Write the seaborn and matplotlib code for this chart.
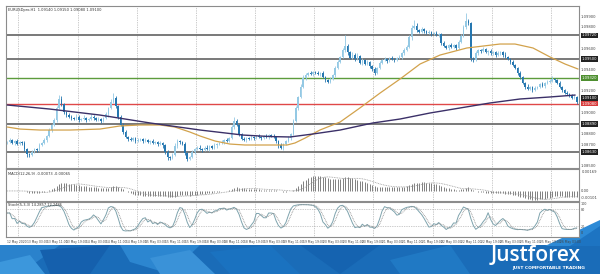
import numpy as np
import pandas as pd
import matplotlib
matplotlib.use("Agg")
import matplotlib.pyplot as plt
import seaborn as sns
from matplotlib.patches import Polygon, Rectangle
import matplotlib.transforms as mtransforms

sns.set_theme(style="white")
plt.rcParams["font.family"] = ["DejaVu Sans"]

# ---------------- data (prices in pips above 1.08000) ----------------
base_price = 1.08
close_pips = [
    72, 74, 71, 73, 70, 72, 71, 66,
    61, 60, 63, 66, 65, 69, 71, 74,
    78, 83, 88, 93, 104, 112, 108, 100,
    97, 96, 95, 94, 96, 93, 94, 95,
    93, 94, 96, 95, 93, 94, 92, 95,
    98, 104, 110, 113, 106, 96, 88, 82,
    77, 75, 74, 76, 73, 74, 75, 73,
    74, 72, 73, 71, 72, 70, 71, 69,
    63, 58, 57, 60, 68, 73, 72, 70,
    62, 56, 58, 63, 66, 67, 66, 65,
    67, 66, 68, 67, 69, 70, 71, 72,
    74, 73, 76, 86, 92, 88, 80, 75,
    74, 76, 75, 77, 76, 78, 77, 76,
    78, 77, 79, 78, 77, 73, 69, 67,
    70, 73, 76, 80, 92, 104, 114, 124,
    132, 135, 137, 136, 138, 137, 136, 137,
    133, 130, 128, 131, 135, 141, 147, 152,
    158, 162, 156, 151, 154, 150, 153, 146,
    149, 145, 147, 143, 140, 137, 141, 146,
    149, 150, 148, 151, 150, 149, 151, 152,
    155, 158, 161, 170, 179, 181, 177, 175,
    178, 176, 174, 175, 173, 174, 172, 173,
    165, 162, 160, 163, 161, 163, 160, 166,
    171, 180, 185, 183, 151, 149, 155, 158,
    157, 159, 156, 157, 155, 156, 154, 155,
    156, 154, 152, 150, 147, 144, 141, 137,
    133, 127, 124, 122, 124, 121, 123, 124,
    126, 125, 127, 128, 129, 131, 130, 127,
    124, 121, 118, 117, 116, 113, 114, 110,
]
up_wick = [
    1, 2, 1, 1, 2, 1, 1, 2,
    1, 1, 2, 1, 1, 2, 1, 2,
    1, 2, 1, 2, 2, 4, 3, 1,
    1, 2, 1, 1, 2, 1, 1, 2,
    1, 1, 2, 1, 1, 2, 1, 1,
    2, 1, 2, 5, 2, 1, 1, 2,
    1, 1, 2, 1, 1, 2, 1, 1,
    2, 1, 1, 2, 1, 1, 2, 1,
    1, 2, 1, 2, 3, 2, 1, 1,
    2, 1, 1, 2, 1, 1, 2, 1,
    1, 2, 1, 1, 2, 1, 1, 2,
    1, 2, 1, 2, 4, 2, 1, 1,
    2, 1, 1, 2, 1, 1, 2, 1,
    1, 2, 1, 1, 2, 1, 1, 2,
    1, 1, 2, 1, 2, 2, 1, 2,
    3, 2, 1, 2, 1, 1, 2, 1,
    2, 1, 1, 2, 1, 2, 2, 1,
    2, 10, 2, 1, 2, 1, 2, 1,
    2, 1, 2, 1, 1, 2, 1, 2,
    1, 2, 1, 1, 2, 1, 1, 2,
    1, 2, 2, 2, 3, 5, 2, 1,
    2, 1, 1, 2, 1, 1, 2, 1,
    1, 2, 1, 1, 2, 1, 1, 2,
    2, 2, 8, 2, 1, 1, 2, 1,
    1, 2, 1, 1, 2, 1, 1, 2,
    1, 1, 2, 1, 1, 2, 1, 1,
    2, 1, 1, 2, 1, 1, 2, 1,
    1, 2, 1, 2, 2, 3, 1, 1,
    2, 1, 1, 2, 1, 1, 2, 1,
]
dn_wick = [
    2, 1, 1, 2, 1, 1, 2, 2,
    3, 2, 1, 1, 2, 1, 1, 1,
    2, 1, 1, 1, 2, 1, 2, 2,
    1, 1, 2, 1, 1, 2, 1, 1,
    2, 1, 1, 2, 1, 1, 2, 1,
    1, 2, 1, 1, 2, 2, 1, 2,
    1, 2, 1, 1, 2, 1, 1, 2,
    1, 1, 2, 1, 1, 2, 1, 2,
    2, 3, 2, 1, 1, 1, 2, 1,
    2, 2, 1, 1, 2, 1, 1, 2,
    1, 1, 2, 1, 1, 2, 1, 1,
    2, 1, 1, 1, 2, 1, 2, 1,
    1, 2, 1, 1, 2, 1, 1, 2,
    1, 1, 2, 1, 1, 2, 2, 1,
    2, 1, 1, 2, 1, 1, 2, 1,
    1, 2, 1, 1, 2, 1, 1, 2,
    1, 2, 1, 1, 1, 2, 1, 1,
    1, 2, 2, 1, 1, 2, 1, 1,
    2, 1, 1, 2, 1, 2, 1, 1,
    1, 1, 2, 1, 1, 2, 1, 1,
    2, 1, 1, 1, 2, 1, 2, 1,
    1, 2, 1, 1, 2, 1, 1, 2,
    2, 1, 1, 2, 1, 1, 2, 1,
    1, 1, 2, 1, 3, 2, 1, 1,
    2, 1, 1, 2, 1, 1, 2, 1,
    1, 2, 1, 1, 2, 1, 1, 2,
    2, 1, 2, 1, 1, 2, 1, 1,
    1, 1, 2, 1, 1, 1, 2, 1,
    1, 2, 1, 1, 2, 1, 1, 2,
]
# moving averages read at a number of bars
fast_ma_bar = [0, 5.2, 13.3, 25.5, 37.6, 45.7, 53.8, 62, 68, 74.1, 78.2, 84.3, 90.3, 96.4,
               106.6, 113.5, 116.7, 120.8, 126.8, 135, 143, 151.2, 159.3, 167.4, 175.5,
               186.4, 199.8, 205.9, 213.2, 220.1, 226.2, 231.5]
fast_ma_pips = [86.2, 84.3, 83.4, 83.4, 84.3, 87.2, 88.1, 88.1, 86.2, 81.5, 77.8, 73.1, 70.3, 69.4,
                69.4, 69.4, 71.3, 75.9, 83.4, 90.9, 104.0, 118.0, 131.1, 145.1, 153.5,
                160.1, 163.8, 163.8, 160.1, 151.7, 145.1, 140.4]
slow_ma_bar = [0, 17.3, 37.6, 57.9, 78.2, 95.6, 106.6, 114.7, 124, 135, 148.3, 159.3, 171.4,
               183.6, 195.8, 207.9, 220.1, 230.3]
slow_ma_pips = [106.8, 103.0, 97.4, 90.0, 83.4, 78.7, 77.3, 76.9, 79.7, 83.4, 90.0, 93.7, 99.3,
                104.0, 108.7, 112.4, 114.3, 116.1]

level_gray = [1.09720, 1.09500, 1.08890, 1.08630]
level_green = 1.09320
level_red = 1.09080
price_ticks = [1.0990, 1.0980, 1.0960, 1.0940, 1.0920, 1.0900, 1.0880, 1.0870, 1.0850]

time_labels = ["12 May 2020", "13 May 03:00", "13 May 11:00", "13 May 19:00",
               "14 May 03:00", "14 May 11:00", "14 May 19:00", "15 May 03:00",
               "15 May 11:00", "15 May 19:00", "18 May 03:00", "18 May 11:00",
               "18 May 19:00", "19 May 03:00", "19 May 11:00", "19 May 19:00",
               "20 May 03:00", "20 May 11:00", "20 May 19:00", "21 May 03:00",
               "21 May 11:00", "21 May 19:00", "22 May 03:00", "22 May 11:00",
               "22 May 19:00", "25 May 03:00", "25 May 11:00", "25 May 19:00",
               "26 May 03:00"]

# ---------------- derived ----------------
n = len(close_pips)
bars = np.arange(n)
close = base_price + np.array(close_pips) / 1e4
open_ = np.concatenate([[close[0]], close[:-1]])
high = np.maximum(open_, close) + np.array(up_wick) / 1e4
low = np.minimum(open_, close) - np.array(dn_wick) / 1e4
df = pd.DataFrame({"bar": bars, "open": open_, "high": high, "low": low, "close": close})

ema12 = df["close"].ewm(span=12, adjust=False).mean()
ema26 = df["close"].ewm(span=26, adjust=False).mean()
df["macd"] = ema12 - ema26
df["signal"] = df["macd"].rolling(9, min_periods=1).mean()

ll = df["low"].rolling(5, min_periods=1).min()
hh = df["high"].rolling(5, min_periods=1).max()
num = (df["close"] - ll).rolling(3, min_periods=1).sum()
den = (hh - ll).rolling(3, min_periods=1).sum()
df["k"] = 100 * num / den.replace(0, np.nan)
df["d"] = df["k"].rolling(3, min_periods=1).mean()

W, H = 600, 274
fig = plt.figure(figsize=(6, 2.74), dpi=100)
fig.patch.set_facecolor("white")

def ax_px(x0, y0, x1, y1):
    return fig.add_axes([x0 / W, 1 - y1 / H, (x1 - x0) / W, (y1 - y0) / H])

# background / banner
bg = fig.add_axes([0, 0, 1, 1], zorder=-5)
bg.set_xlim(0, W); bg.set_ylim(H, 0); bg.axis("off")
bg.add_patch(Rectangle((0, 245), W, 30, color="#1a6cb8", lw=0))
for pts, col in [
    ([(0, 245), (60, 245), (20, 274), (0, 274)], "#2a82cc"),
    ([(40, 250), (110, 245), (90, 274), (50, 274)], "#1560ad"),
    ([(120, 245), (200, 245), (170, 274), (130, 262)], "#2c86d0"),
    ([(210, 252), (270, 245), (300, 274), (230, 274)], "#1a72c0"),
    ([(300, 245), (380, 245), (340, 274)], "#1563b0"),
    ([(390, 260), (450, 245), (470, 274), (400, 274)], "#2079c4"),
    ([(0, 262), (30, 255), (45, 274), (0, 274)], "#3c97dc"),
    ([(150, 258), (190, 250), (215, 274), (160, 274)], "#3a92d8"),
]:
    bg.add_patch(Polygon(pts, closed=True, color=col, lw=0))
bg.add_patch(Polygon([(545, 246), (600, 220), (600, 246)], closed=True, color="#2d8ad6", lw=0))
bg.add_patch(Polygon([(570, 246), (600, 226), (600, 246)], closed=True, color="#1d74c2", lw=0))
bg.text(536, 255.5, "Justforex", color="white", fontsize=15, fontweight="semibold",
        family="Open Sans", ha="center", va="center")
bg.text(549, 268.5, "JUST COMFORTABLE TRADING", color="white", fontsize=3.2,
        fontweight="bold", ha="center", va="center")

x0, x1 = 6, 579
ax = ax_px(x0, 6, x1, 168)
axm = ax_px(x0, 169, x1, 201)
axs = ax_px(x0, 202, x1, 237)

xlim = (-0.5, (x1 - x0) / 2.466 - 0.5)
grid_x = np.arange(4.5, n, 24)
for a in (ax, axm, axs):
    a.set_facecolor("white")
    a.set_xlim(*xlim)
    for s in a.spines.values():
        s.set_color("#8c8c8c"); s.set_linewidth(0.8)
    for g in grid_x:
        a.axvline(g, color="#9a9a9a", lw=0.5, ls=(0, (1, 1.5)), zorder=0)
    a.tick_params(axis="both", length=0, labelsize=2.7, colors="#444", pad=1)
    a.yaxis.tick_right()

# ---------------- main price panel ----------------
ax.set_ylim(base_price + 47.9 / 1e4, base_price + 199.35 / 1e4)
for lv in level_gray:
    ax.axhline(lv, color="#6e6e6e", lw=1.3, zorder=1)
ax.axhline(level_green, color="#5c9c3c", lw=1.0, zorder=1)
ax.axhline(level_red, color="#e04848", lw=1.0, zorder=1)

bull = df["close"] >= df["open"]
body_h = (df["close"] - df["open"]).abs().clip(lower=0.3 / 1e4)
body_b = np.minimum(df["open"], df["close"])
cols = np.where(bull, "#94c9e4", "#2677b0")
ax.vlines(df["bar"], df["low"], df["high"], colors=cols, lw=0.6, zorder=3)
ax.bar(df["bar"], body_h, bottom=body_b, width=0.62, color=cols, lw=0, zorder=4)

sns.lineplot(x=fast_ma_bar, y=base_price + np.array(fast_ma_pips) / 1e4, ax=ax,
             color="#d2a24c", lw=0.9, zorder=5)
sns.lineplot(x=slow_ma_bar, y=base_price + np.array(slow_ma_pips) / 1e4, ax=ax,
             color="#3b3068", lw=1.0, zorder=5)

ax.set_yticks(price_ticks)
ax.set_yticklabels([f"{t:.5f}" for t in price_ticks])
ax.set_xticks([])
ax.set_xlabel(""); ax.set_ylabel("")
blend = mtransforms.blended_transform_factory(ax.transAxes, ax.transData)
box = dict(boxstyle="square,pad=0.2", ec="none")
for lv in level_gray:
    ax.text(1.004, lv, f"{lv:.5f}", transform=blend, fontsize=2.7, color="white",
            va="center", ha="left", bbox=dict(box, fc="#222"))
ax.text(1.004, level_green, f"{level_green:.5f}", transform=blend, fontsize=2.7, color="white",
        va="center", ha="left", bbox=dict(box, fc="#4e8f30"))
last_close = df["close"].iloc[-1]
ax.text(1.004, max(last_close, level_red + 0.00052), f"{last_close:.5f}", transform=blend, fontsize=2.7,
        color="white", va="center", ha="left", bbox=dict(box, fc="#222"))
ax.text(1.004, level_red, f"{level_red:.5f}", transform=blend, fontsize=2.7, color="white",
        va="center", ha="left", bbox=dict(box, fc="#d83c3c"))
last = df.iloc[-1]
ax.text(0.004, 0.985, f"EURUSDpro,H1  {last['open']:.5f} {last['high']:.5f} {last['low']:.5f} {last['close']:.5f}",
        transform=ax.transAxes, fontsize=2.6, color="#333", va="top", ha="left")

# ---------------- MACD panel ----------------
M = df["macd"].abs().max()
axm.set_ylim(-0.67 * M, 1.47 * M)
axm.vlines(df["bar"], 0, df["macd"], colors="#6a6a6a", lw=0.6, zorder=3)
sns.lineplot(x=df["bar"], y=df["signal"], ax=axm, color="#9a9a9a", lw=0.6,
             linestyle=(0, (1, 1)), zorder=4)
axm.set_yticks([0])
axm.set_yticklabels(["0.00"])
axm.set_xticks([]); axm.set_xlabel(""); axm.set_ylabel("")
axm.text(1.004, 0.9, f"{M:.5f}", transform=axm.transAxes, fontsize=2.7, color="#444", va="center")
axm.text(1.004, 0.1, f"{df['macd'].min():.5f}", transform=axm.transAxes, fontsize=2.7, color="#444", va="center")
axm.text(0.004, 0.92, f"MACD(12,26,9) {df['macd'].iloc[-1]:.5f} {df['signal'].iloc[-1]:.5f}",
         transform=axm.transAxes, fontsize=2.6, color="#333", va="top", ha="left")

# ---------------- Stochastic panel ----------------
axs.set_ylim(-17.5, 105.3)
for lv in (80, 20):
    axs.axhline(lv, color="#9a9a9a", lw=0.5, ls=(0, (1, 1.5)), zorder=1)
sns.lineplot(x=df["bar"], y=df["k"], ax=axs, color="#7ea3ad", lw=0.7, zorder=3)
sns.lineplot(x=df["bar"], y=df["d"], ax=axs, color="#8a8a8a", lw=0.6,
             linestyle=(0, (1, 1)), zorder=3)
axs.set_yticks([100, 80, 20, 0])
axs.set_yticklabels(["100", "80", "20", "0"], fontsize=2.4)
axs.set_xlabel(""); axs.set_ylabel("")
axs.text(0.004, 0.97, f"Stoch(5,3,3) {df['k'].iloc[-1]:.4f} {df['d'].iloc[-1]:.4f}",
         transform=axs.transAxes, fontsize=2.6, color="#333", va="top", ha="left")
tick_pos = list(range(0, n, 8))[:len(time_labels)]
axs.set_xticks(tick_pos)
axs.set_xticklabels(time_labels[:len(tick_pos)], ha="left", fontsize=2.2)
axs.tick_params(axis="x", length=1.5, width=0.4, color="#666", pad=0.8)

fig.savefig("out.png", dpi=100, facecolor="white")
